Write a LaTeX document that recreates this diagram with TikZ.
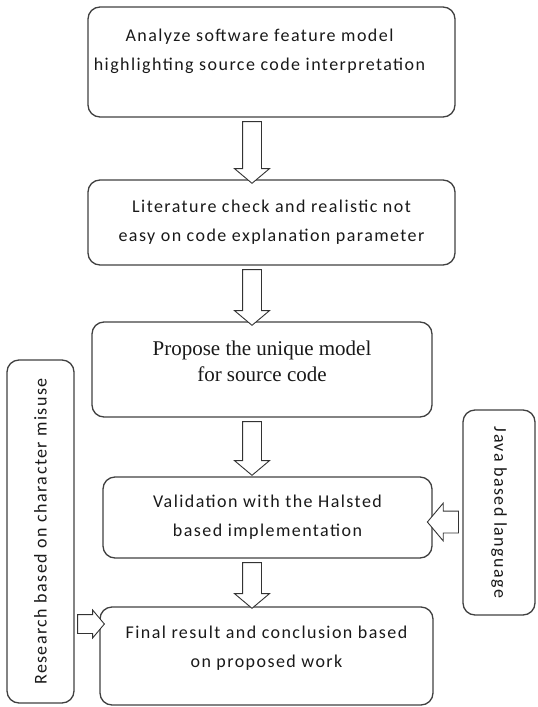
\documentclass[tikz,border=0pt]{standalone}
\usepackage{fontspec}
\setmainfont[LetterSpace=8]{Carlito}
\newfontfamily\serifBox{Liberation Serif}
\usetikzlibrary{shapes.arrows,calc}

\begin{document}
\begin{tikzpicture}[x=1pt,y=-1pt,%%
  boxStyle/.style={draw=black!75,line width=1.3pt,rounded corners=12pt,%%
    align=center,inner sep=0pt,text=black!90,font=\fontsize{18}{29}\selectfont},%%
  serifStyle/.style={font=\serifBox\fontsize{21}{26}\selectfont},%%
  lift/.style={text depth=#1},%%
  blockArrow/.style={single arrow,draw=black!80,line width=0.9pt,fill=white,%%
    single arrow tip angle=100},%%
  downArrow/.style={blockArrow,shape border rotate=270,inner sep=9pt,%%
    single arrow head extend=8pt},%%
  leftArrow/.style={blockArrow,shape border rotate=180}
]
%%
\useasboundingbox (0,0) rectangle (538,707);
%%
%% Where the arrows sit.
\coordinate (spine) at (252,0);       %% x of the down arrows
\coordinate (javaLevel) at (0,522);   %% y of the arrow from the right box
\coordinate (researchLevel) at (0,624); %% y of the arrow from the left box
%%
%% The main column.
\node[boxStyle,minimum width=367pt,minimum height=110pt,lift=24pt] (analyze)
  at (271.5,62) {Analyze software feature model\hspace*{24pt}\\highlighting source code interpretation\hspace*{24pt}};
\node[boxStyle,minimum width=367pt,minimum height=85pt] (literature)
  at (271.5,222.5) {Literature check and realistic not\\easy on code explanation parameter};
\node[boxStyle,serifStyle,minimum width=340pt,minimum height=95pt,lift=16pt] (propose)
  at (262,369.5) {Propose the unique model\\for source code};
\node[boxStyle,minimum width=329pt,minimum height=81pt] (validation)
  at (267.5,517.5) {Validation with the Halsted\\based implementation};
\node[boxStyle,minimum width=333pt,minimum height=98pt,lift=18pt] (result)
  at (266.5,656) {Final result and conclusion based\\on proposed work};
%%
%% The side boxes.
\node[boxStyle,rotate=90,minimum width=343pt,minimum height=67pt] (research)
  at (40.5,531.5) {Research based on character misuse};
\node[boxStyle,rotate=-90,minimum width=205pt,minimum height=72pt] (java)
  at (499,512.5) {Java based language};
%%
%% Down arrows between the boxes.
\path let \p1=(analyze.south -| spine), \p2=(literature.north -| spine) in
  node[downArrow,minimum height={\y1-\y2}] (arrowOne) at ($(\p1)!0.5!(\p2)$) {};
\path let \p1=(literature.south -| spine), \p2=(propose.north -| spine) in
  node[downArrow,minimum height={\y1-\y2}] (arrowTwo) at ($(\p1)!0.5!(\p2)$) {};
\path let \p1=(propose.south -| spine), \p2=(validation.north -| spine) in
  node[downArrow,minimum height={\y1-\y2-5pt}] (arrowThree) at ($(\p1)!0.5!(\p2)+(0,-2.5)$) {};
\path let \p1=(validation.south -| spine), \p2=(result.north -| spine) in
  node[downArrow,minimum height={\y1-\y2-2pt}] (arrowFour) at ($(\p1)!0.5!(\p2)+(0,-1)$) {};
%%
%% Side arrows.
\path let \p1=(java.south |- javaLevel), \p2=(validation.east |- javaLevel) in
  node[leftArrow,inner sep=10.5pt,single arrow head extend=8pt,minimum height={\x1-\x2}]
  (arrowJava) at ($(\p1)!0.5!(\p2)$) {};
\path let \p1=(research.south |- researchLevel), \p2=(result.west |- researchLevel) in
  node[leftArrow,shape border rotate=0,inner sep=9pt,single arrow head extend=4.5pt,%%
  minimum height={\x2-\x1}] (arrowResearch) at ($(\p1)!0.5!(\p2)$) {};
\end{tikzpicture}
\end{document}
